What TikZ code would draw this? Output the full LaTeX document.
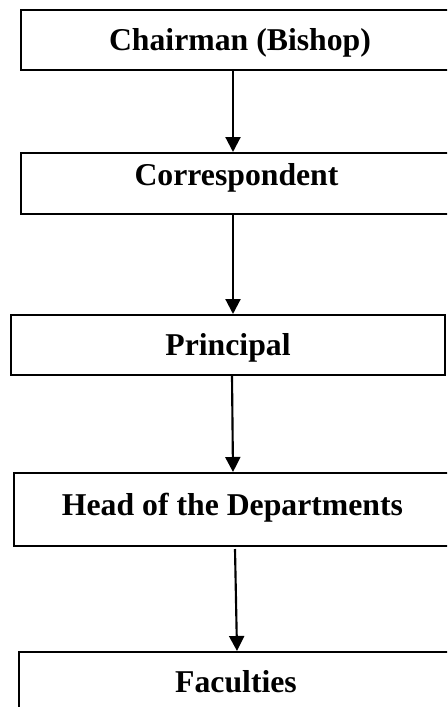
\documentclass[tikz,border=0pt]{standalone}
\usepackage{fontspec}
\setmainfont{Liberation Serif}
\usetikzlibrary{arrows.meta}

\tikzset{
  org_box/.style={draw,line width=1.5pt,rectangle,inner sep=0pt,
    font=\fontsize{23.8}{28}\selectfont\bfseries,text height=15.75pt,text depth=0pt},
  org_arrow/.style={line width=1.6pt,-{Triangle[width=11.25pt,length=11.25pt]}}
}

\begin{document}
\begin{tikzpicture}[x=0.75pt,y=-0.75pt]
\useasboundingbox (0,0) rectangle (447,707);
\clip (0,0) rectangle (447,707);

\node[org_box,minimum width=438*0.75pt,minimum height=60*0.75pt] (chair) at (240,40) {Chairman (Bishop)};
\node[org_box,minimum width=431*0.75pt,minimum height=61*0.75pt,text depth=13.5pt] (corr) at (236.5,183.5) {Correspondent};
\node[org_box,minimum width=434*0.75pt,minimum height=60*0.75pt] (princ) at (228,345) {Principal};
\node[org_box,minimum width=437*0.75pt,minimum height=73*0.75pt,text depth=7.5pt] (head) at (232.5,509.5) {Head of the Departments};
\node[org_box,minimum width=434*0.75pt,minimum height=59*0.75pt] (fac) at (236,681.5) {Faculties};

\foreach \a/\b/\sa/\sb/\ga in {chair/corr/-7/-3.5/0,corr/princ/-3.5/5/0,princ/head/4/0.5/0,head/fac/2.5/1/2}{
\draw[org_arrow] ([xshift=\sa*0.75pt,yshift=-\ga*0.75pt]\a.south) -- ([xshift=\sb*0.75pt]\b.north);
}
\end{tikzpicture}
\end{document}
